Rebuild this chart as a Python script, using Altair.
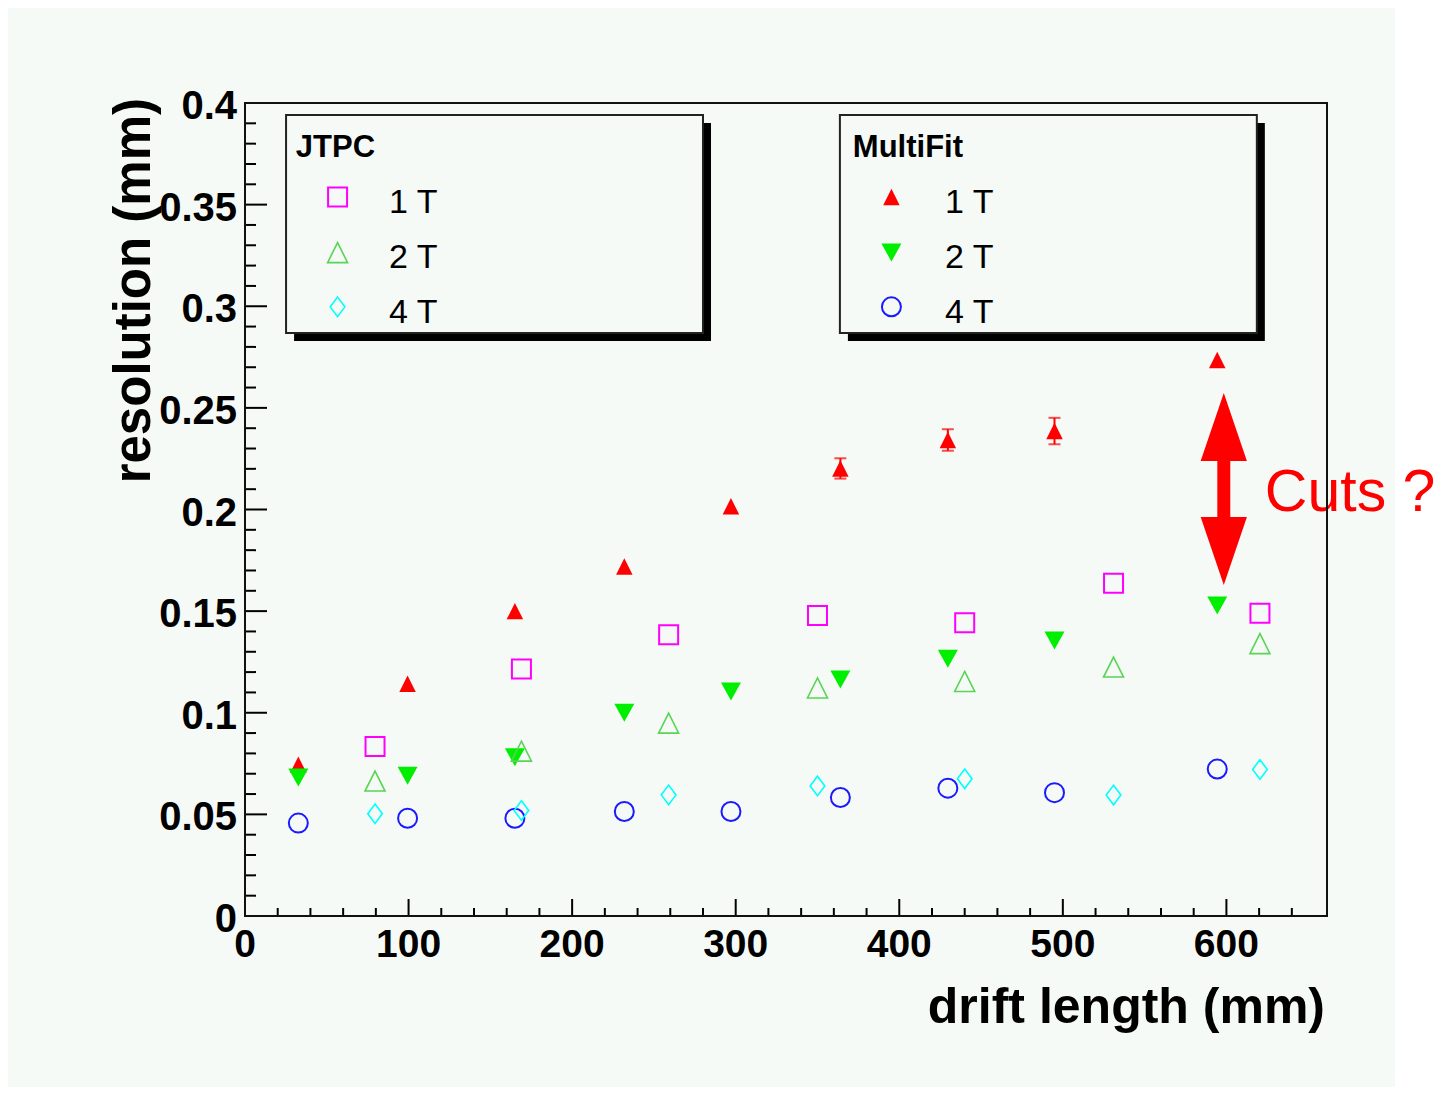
import altair as alt
import pandas as pd

# ---------------- data ----------------
jtpc_x = [79.5, 169.0, 259.0, 350.0, 440.0, 531.0, 620.5]
jtpc_1T = [0.0834, 0.1215, 0.1384, 0.1478, 0.1443, 0.1637, 0.1489]
jtpc_2T = [0.0664, 0.0811, 0.0949, 0.1122, 0.1154, 0.1225, 0.1340]
jtpc_4T = [0.0503, 0.0519, 0.0596, 0.0640, 0.0675, 0.0595, 0.0721]

mf_x = [32.6, 99.4, 165.0, 231.9, 297.1, 364.0, 429.7, 494.9, 594.4]
mf_1T = [0.0744, 0.1143, 0.1500, 0.1719, 0.2016, 0.2202, 0.2342, 0.2386, 0.2736]
mf_1T_err = [0.0, 0.0, 0.0, 0.0, 0.0, 0.0050, 0.0053, 0.0065, 0.0]
mf_2T = [0.0682, 0.0690, 0.0781, 0.1000, 0.1104, 0.1163, 0.1266, 0.1356, 0.1528]
mf_4T = [0.0457, 0.0481, 0.0481, 0.0514, 0.0514, 0.0583, 0.0629, 0.0607, 0.0723]

x_major = [0, 100, 200, 300, 400, 500, 600]
x_major_labels = ["0", "100", "200", "300", "400", "500", "600"]
x_minor = [v for v in range(20, 660, 20) if v % 100 != 0]
y_major = [0.0, 0.05, 0.1, 0.15, 0.2, 0.25, 0.3, 0.35, 0.4]
y_major_labels = ["0", "0.05", "0.1", "0.15", "0.2", "0.25", "0.3", "0.35", "0.4"]
y_minor = [round(i * 0.01, 2) for i in range(1, 40) if i % 5 != 0]
x_title = "drift length (mm)"
y_title = "resolution (mm)"

x_domain = [0, 661.5]
y_domain = [0, 0.4]

# legend boxes (data units)
jtpc_box = [25.1, 280.0, 0.2868, 0.3941]
mf_box = [363.7, 618.6, 0.2868, 0.3941]
shadow_dx, shadow_dy = 4.9, 0.0039
legend_titles = ["JTPC", "MultiFit"]
legend_title_x = [31.1, 371.6]
legend_title_y = [0.3736, 0.3736]
legend_labels = ["1 T", "2 T", "4 T"]
legend_label_x = [88.0, 427.9]
legend_label_y = [0.3460, 0.3187, 0.2919]
legend_marker_x = [56.6, 395.2]
legend_marker_y = [0.3537, 0.3264, 0.2997]

# annotation arrow + text
arrow_x = 598.4
arrow_head_up_y = 0.2406
arrow_head_down_y = 0.1796
arrow_shaft = [0.2250, 0.1952]
cuts_text = "Cuts ?"
cuts_x = 623.5
cuts_y = 0.1994

# ---------------- chart ----------------
W, H = 1082, 813
PANEL = "#f6faf7"
FONT = "Liberation Sans"
xs = alt.Scale(domain=x_domain, nice=False, zero=False)
ys = alt.Scale(domain=y_domain, nice=False, zero=False)

TRI_UP = "M0,-1L1,1L-1,1Z"
TRI_DOWN = "M0,0.9L1,-0.9L-1,-0.9Z"
DIAMOND = "M0,-1L0.75,0L0,1L-0.75,0Z"
HEAD_UP = "M0,-1L0.68,1L-0.68,1Z"
HEAD_DOWN = "M0,1L0.68,-1L-0.68,-1Z"


def X(field="x"):
    return alt.X(f"{field}:Q", scale=xs, axis=None)


def Y(field="y"):
    return alt.Y(f"{field}:Q", scale=ys, axis=None)


def series(xv, yv, lx, ly):
    return pd.DataFrame({"x": list(xv) + [lx], "y": list(yv) + [ly]})


def pts(df, shape, size, color, filled, sw):
    if filled:
        m = alt.Chart(df).mark_point(shape=shape, size=size, filled=True, fill=color,
                                     strokeWidth=0, opacity=1)
    else:
        m = alt.Chart(df).mark_point(shape=shape, size=size, filled=False, stroke=color,
                                     strokeWidth=sw, opacity=1)
    return m.encode(x=X(), y=Y())


frame_df = pd.DataFrame({"x0": [x_domain[0]], "x1": [x_domain[1]],
                         "y0": [y_domain[0]], "y1": [y_domain[1]]})
one = pd.DataFrame({"a": [0]})

# white strip right of the grey-green canvas
white_strip = alt.Chart(one).mark_rect(fill="white", strokeWidth=0).encode(
    x=alt.value(1150), x2=alt.value(1220), y=alt.value(-120), y2=alt.value(1000))

frame = alt.Chart(frame_df).mark_rect(filled=False, stroke="#111111", strokeWidth=2).encode(
    x=X("x0"), x2="x1:Q", y=Y("y0"), y2="y1:Q")

# ticks (inside, ROOT style)
ytick_major = alt.Chart(pd.DataFrame({"y": y_major})).mark_rule(color="black", strokeWidth=2).encode(
    y=Y(), x=alt.value(0), x2=alt.value(22))
ytick_minor = alt.Chart(pd.DataFrame({"y": y_minor})).mark_rule(color="black", strokeWidth=2).encode(
    y=Y(), x=alt.value(0), x2=alt.value(11))
xtick_major = alt.Chart(pd.DataFrame({"x": x_major})).mark_rule(color="black", strokeWidth=2).encode(
    x=X(), y=alt.value(H), y2=alt.value(H - 17))
xtick_minor = alt.Chart(pd.DataFrame({"x": x_minor})).mark_rule(color="black", strokeWidth=2).encode(
    x=X(), y=alt.value(H), y2=alt.value(H - 8))

# tick labels and axis titles
xlab = alt.Chart(pd.DataFrame({"x": x_major, "t": x_major_labels})).mark_text(
    font=FONT, fontSize=39, fontWeight="bold", color="black", align="center",
    baseline="alphabetic").encode(x=X(), y=alt.value(H + 41), text="t:N")
ylab = alt.Chart(pd.DataFrame({"y": y_major, "t": y_major_labels})).mark_text(
    font=FONT, fontSize=40, fontWeight="bold", color="black", align="right",
    baseline="middle", dy=4).encode(y=Y(), x=alt.value(-8), text="t:N")
xtitle = alt.Chart(pd.DataFrame({"t": [x_title]})).mark_text(
    font=FONT, fontSize=50, fontWeight="bold", color="black", align="right",
    baseline="alphabetic").encode(x=alt.value(1080), y=alt.value(H + 107), text="t:N")
ytitle = alt.Chart(pd.DataFrame({"t": [y_title]})).mark_text(
    font=FONT, fontSize=51, fontWeight="bold", color="black", align="right",
    baseline="alphabetic", angle=270).encode(x=alt.value(-95), y=alt.value(-5), text="t:N")

# legend boxes
boxes = pd.DataFrame({
    "x0": [jtpc_box[0], mf_box[0]], "x1": [jtpc_box[1], mf_box[1]],
    "y0": [jtpc_box[2], mf_box[2]], "y1": [jtpc_box[3], mf_box[3]]})
shadows = boxes.copy()
shadows["x0"] = shadows["x0"] + shadow_dx
shadows["x1"] = shadows["x1"] + shadow_dx
shadows["y0"] = shadows["y0"] - shadow_dy
shadows["y1"] = shadows["y1"] - shadow_dy
shadow_layer = alt.Chart(shadows).mark_rect(fill="black", strokeWidth=0).encode(
    x=X("x0"), x2="x1:Q", y=Y("y0"), y2="y1:Q")
box_layer = alt.Chart(boxes).mark_rect(fill=PANEL, stroke="#222222", strokeWidth=2).encode(
    x=X("x0"), x2="x1:Q", y=Y("y0"), y2="y1:Q")

title_df = pd.DataFrame({"x": legend_title_x, "y": legend_title_y, "t": legend_titles})
leg_titles = alt.Chart(title_df).mark_text(font=FONT, fontSize=31, fontWeight="bold",
                                           color="black", align="left",
                                           baseline="alphabetic").encode(
    x=X(), y=Y(), text="t:N")
lab_rows = []
for gx in legend_label_x:
    for ly, lt in zip(legend_label_y, legend_labels):
        lab_rows.append({"x": gx, "y": ly, "t": lt})
leg_labels = alt.Chart(pd.DataFrame(lab_rows)).mark_text(font=FONT, fontSize=34,
                                                         color="black", align="left",
                                                         baseline="alphabetic").encode(
    x=X(), y=Y(), text="t:N")

# data series (+ their legend markers)
mf1 = pts(series(mf_x, mf_1T, legend_marker_x[1], legend_marker_y[0]), TRI_UP, 272, "#ff0000", True, 0)
mf2 = pts(series(mf_x, mf_2T, legend_marker_x[1], legend_marker_y[1]), TRI_DOWN, 400, "#00ee00", True, 0)
mf4 = pts(series(mf_x, mf_4T, legend_marker_x[1], legend_marker_y[2]), "circle", 361, "#1a1aff", False, 2)
jt1 = pts(series(jtpc_x, jtpc_1T, legend_marker_x[0], legend_marker_y[0]), "square", 361, "#ff00ff", False, 2)
jt2 = pts(series(jtpc_x, jtpc_2T, legend_marker_x[0], legend_marker_y[1]), TRI_UP, 400, "#59d454", False, 1.6)
jt4 = pts(series(jtpc_x, jtpc_4T, legend_marker_x[0], legend_marker_y[2]), DIAMOND, 380, "#00ffff", False, 1.6)

err_df = pd.DataFrame({"x": mf_x, "y": mf_1T, "e": mf_1T_err})
err_df["lo"] = err_df["y"] - err_df["e"]
err_df["hi"] = err_df["y"] + err_df["e"]
err_df = err_df[err_df["e"] > 0]
err_bar = alt.Chart(err_df).mark_rule(color="#ff0000", strokeWidth=2).encode(
    x=X(), y=Y("lo"), y2="hi:Q")
err_cap_hi = alt.Chart(err_df).mark_tick(orient="horizontal", size=12, thickness=2,
                                         color="#ff0000").encode(x=X(), y=Y("hi"))
err_cap_lo = alt.Chart(err_df).mark_tick(orient="horizontal", size=12, thickness=2,
                                         color="#ff0000").encode(x=X(), y=Y("lo"))

# arrow annotation
shaft = alt.Chart(pd.DataFrame({"x": [arrow_x], "y0": [arrow_shaft[0]], "y1": [arrow_shaft[1]]})).mark_rule(
    color="#ff0000", strokeWidth=13).encode(x=X(), y=Y("y0"), y2="y1:Q")
head_up = pts(pd.DataFrame({"x": [arrow_x], "y": [arrow_head_up_y]}), HEAD_UP, 4624, "#ff0000", True, 0)
head_down = pts(pd.DataFrame({"x": [arrow_x], "y": [arrow_head_down_y]}), HEAD_DOWN, 4624, "#ff0000", True, 0)
cuts = alt.Chart(pd.DataFrame({"x": [cuts_x], "y": [cuts_y], "t": [cuts_text]})).mark_text(
    font=FONT, fontSize=59, color="#ff0000", align="left", baseline="alphabetic").encode(
    x=X(), y=Y(), text="t:N")

chart = alt.layer(
    white_strip, shadow_layer, box_layer,
    ytick_major, ytick_minor, xtick_major, xtick_minor,
    xlab, ylab, xtitle, ytitle,
    err_bar, err_cap_hi, err_cap_lo,
    mf1, mf2, mf4, jt1, jt2, jt4,
    leg_titles, leg_labels, shaft, head_up, head_down, cuts, frame
).properties(
    width=W, height=H,
    padding={"left": 237, "top": 95, "right": 111, "bottom": 171},
    autosize=alt.AutoSizeParams(type="none"),
    background=PANEL,
).configure_view(stroke=None)

chart.save("out.html", embed_options={"renderer": "svg", "actions": False})
